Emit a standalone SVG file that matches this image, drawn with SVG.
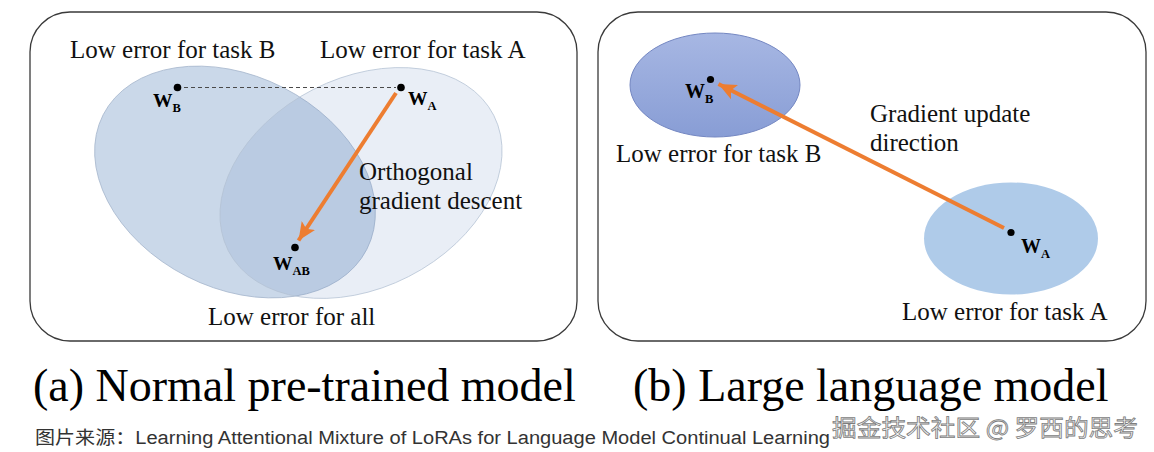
<svg xmlns="http://www.w3.org/2000/svg" width="1154" height="452" viewBox="0 0 1154 452">
<style>
.panel{fill:#fff;stroke:#3a3a3a;stroke-width:1.3}
.lbl{font-family:"Liberation Serif","Times New Roman",serif;font-size:25px;fill:#111}
.cap{font-family:"Liberation Serif","Times New Roman",serif;font-size:46px;fill:#000}
.w{font-family:"Liberation Serif","Times New Roman",serif;font-weight:bold;fill:#000}
.dot{fill:#000}
.arrow{stroke:#ed7d31;stroke-width:4;fill:none}
</style>
<defs>
<marker id="ah" markerUnits="userSpaceOnUse" markerWidth="20" markerHeight="16" refX="18" refY="8" orient="auto">
<path d="M0,0 L18,8 L0,16 L4,8 Z" fill="#ed7d31"/>
</marker>
<linearGradient id="gB" x1="0" y1="0" x2="0" y2="1">
<stop offset="0" stop-color="#a7b7e3"/>
<stop offset="1" stop-color="#889dd5"/>
</linearGradient>
</defs>
<rect width="1154" height="452" fill="#fff"/>

<g id="panel-a">
<rect class="panel" x="30" y="12" width="547" height="329" rx="40" ry="40"/>
<g id="region-a-taskB">
<ellipse cx="235" cy="182" rx="148" ry="106" transform="rotate(27 235 182)" fill="#4a77b4" fill-opacity="0.29" stroke="#a3b4cb" stroke-width="0.7"/>
<text class="lbl" x="70" y="58">Low error for task B</text>
</g>
<g id="region-a-taskA">
<ellipse cx="361" cy="183" rx="149" ry="105" transform="rotate(-27 361 183)" fill="#4a77b4" fill-opacity="0.12" stroke="#b4c2d4" stroke-width="0.7"/>
<text class="lbl" x="320" y="58">Low error for task A</text>
</g>
<g id="point-a-WB">
<circle class="dot" cx="177.5" cy="87.5" r="3.8"/>
<text class="w" x="153" y="107" font-size="19.5">W<tspan font-size="12.5" dy="5">B</tspan></text>
</g>
<g id="point-a-WA">
<circle class="dot" cx="401" cy="87.5" r="3.8"/>
<text class="w" x="408" y="105" font-size="19.5">W<tspan font-size="12.5" dy="5">A</tspan></text>
</g>
<g id="point-a-WAB">
<circle class="dot" cx="295" cy="247.5" r="3.8"/>
<text class="w" x="273" y="270" font-size="19.5">W<tspan font-size="12.5" dy="5">AB</tspan></text>
</g>
<text class="lbl" x="359" y="180">Orthogonal</text>
<text class="lbl" x="359" y="209">gradient descent</text>
<text class="lbl" x="208" y="325">Low error for all</text>
</g>

<g id="panel-b">
<rect class="panel" x="598" y="12" width="548" height="329" rx="40" ry="40"/>
<g id="region-b-taskB">
<ellipse cx="715" cy="85" rx="85" ry="52" fill="url(#gB)" stroke="#7487c2" stroke-width="1"/>
<text class="lbl" x="616" y="162">Low error for task B</text>
</g>
<g id="region-b-taskA">
<ellipse cx="1011" cy="238.5" rx="87" ry="56" fill="#afcbe9"/>
<text class="lbl" x="902" y="320">Low error for task A</text>
</g>
<g id="point-b-WB">
<circle class="dot" cx="710.5" cy="79.5" r="3.6"/>
<text class="w" x="685" y="98" font-size="20">W<tspan font-size="12.5" dy="5">B</tspan></text>
</g>
<g id="point-b-WA">
<circle class="dot" cx="1011" cy="232.5" r="3.6"/>
<text class="w" x="1021" y="253" font-size="20">W<tspan font-size="12.5" dy="5">A</tspan></text>
</g>
<text class="lbl" x="870" y="122">Gradient update</text>
<text class="lbl" x="870" y="151">direction</text>
</g>

<g id="connectors">
<line x1="184" y1="87.5" x2="396" y2="87.5" stroke="#4a4a4a" stroke-width="1.2" stroke-dasharray="4 3"/>
<line class="arrow" x1="396" y1="93" x2="298.5" y2="240.5" marker-end="url(#ah)"/>
<line class="arrow" x1="1004" y1="228" x2="718.5" y2="84" marker-end="url(#ah)"/>
</g>

<g id="captions">
<text class="cap" x="33" y="401">(a) Normal pre-trained model</text>
<text class="cap" x="633" y="401">(b) Large language model</text>
</g>

<g id="footer">
<text x="35" y="444" font-family="'Liberation Sans','Noto Sans CJK SC',sans-serif" font-size="18" fill="#333" textLength="795" lengthAdjust="spacingAndGlyphs">图片来源：Learning Attentional Mixture of LoRAs for Language Model Continual Learning</text>
<text x="832" y="436" font-family="'Noto Sans CJK SC','Liberation Sans',sans-serif" font-size="23" fill="#f6f6f6" stroke="#7d7d7d" stroke-width="0.8" textLength="306" lengthAdjust="spacingAndGlyphs">掘金技术社区 @ 罗西的思考</text>
</g>
</svg>
